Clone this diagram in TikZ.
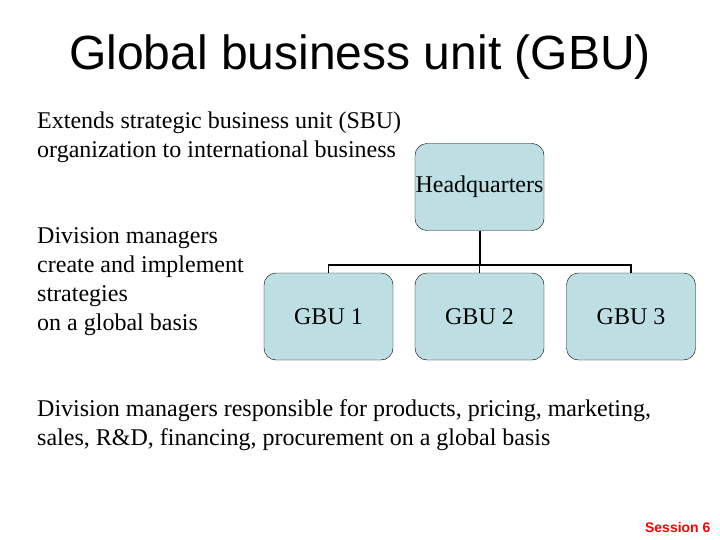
\documentclass[tikz,border=0pt]{standalone}
\usepackage{fontspec}
\setmainfont{Liberation Serif}
\newfontfamily\arialf{Liberation Sans}
\definecolor{boxfill}{HTML}{BDDFE3}
\begin{document}
\begin{tikzpicture}[x=1pt,y=-1pt,
  box/.style={draw=black,fill=boxfill,rounded corners=12pt,minimum width=129pt,minimum height=87pt,inner sep=0pt,font=\fontsize{24}{26}\selectfont},
  txt/.style={anchor=north west,align=left,inner sep=0pt,font=\fontsize{24}{29}\selectfont}]
\useasboundingbox (0,0) rectangle (720,540);
\node[font=\arialf\fontsize{48}{50}\selectfont] (title) at (360,57) {Global business unit (GBU)};
\node[txt] (t1) at (37,112) {Extends strategic business unit (SBU)\\organization to international business};
\node[txt] (t2) at (37,227) {Division managers\\create and implement\\strategies\\on a global basis};
\node[txt] (t3) at (37,399) {Division managers responsible for products, pricing, marketing,\\sales, R\&D, financing, procurement on a global basis};
\node[box] (hq) at (479.5,187) {Headquarters};
\node[box] (g1) at (328.5,316.5) {GBU 1};
\node[box] (g2) at (479.5,316.5) {GBU 2};
\node[box] (g3) at (631,316.5) {GBU 3};
\coordinate (bus) at (479.5,265);
\draw[line width=2pt] (hq.south) -- (bus);
\draw[line width=1.5pt] (g1.north) |- (bus) -| (g3.north);
\draw[line width=1.5pt] (bus) -- (g2.north);
\node[font=\arialf\bfseries\fontsize{14}{16}\selectfont,text=red,anchor=east] (s) at (714,527) {Session 6};
\end{tikzpicture}
\end{document}
